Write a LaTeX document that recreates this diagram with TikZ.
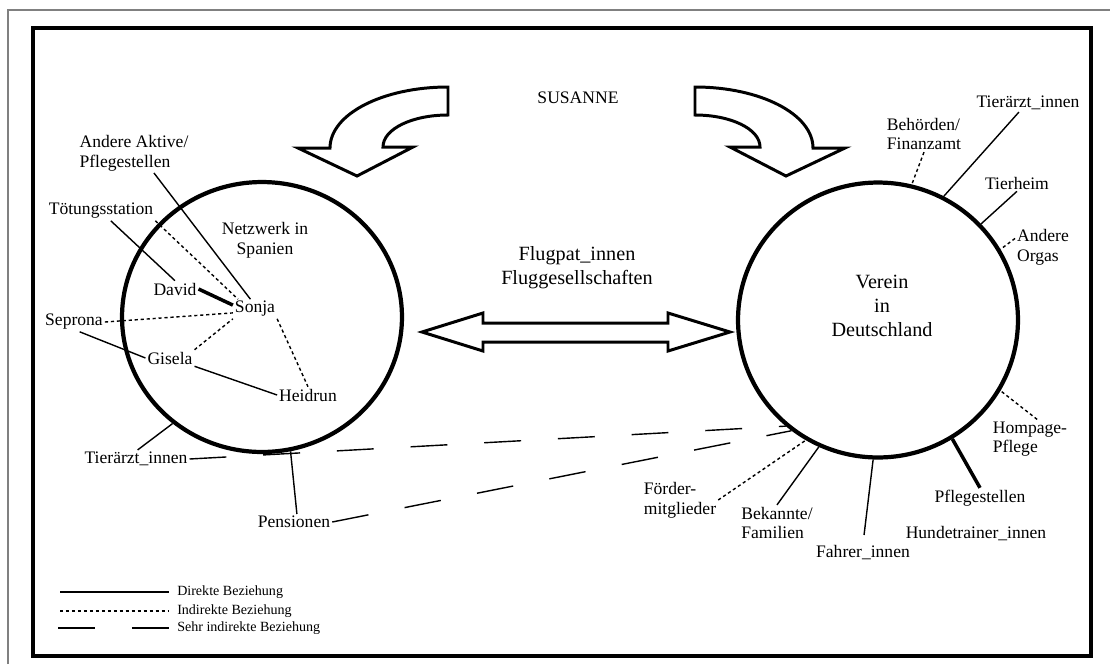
\documentclass[tikz,border=0pt]{standalone}
\usepackage{fontspec}
\setmainfont{Liberation Serif}
\usetikzlibrary{shapes.geometric,positioning}
\tikzstyle{akteur} = [inner sep=1pt, font=\fontsize{10}{11.2}\selectfont, align=left]
\tikzstyle{titel} = [inner sep=1pt, font=\fontsize{11.5}{13.5}\selectfont, align=center]
\tikzstyle{kreis} = [ellipse, draw=black, line width=2.4pt, inner sep=0pt]
\tikzstyle{direkt} = [line width=0.8pt]
\tikzstyle{indirekt} = [line width=0.8pt, dash pattern=on 1.8pt off 1.6pt]
\tikzstyle{sehrindirekt} = [line width=0.8pt, dash pattern=on 21pt off 21pt]
\tikzstyle{stark} = [line width=2pt]
\tikzstyle{blockpfeil} = [draw=black, line width=1.7pt, line join=miter, fill=white]
\tikzstyle{legende} = [inner xsep=4.5pt, inner ysep=1pt, font=\fontsize{8}{9.6}\selectfont, anchor=west]
\begin{document}
\begin{tikzpicture}[x=0.02cm, y=-0.02cm]
\useasboundingbox (0,0) rectangle (1110,664);

	% Rahmen
	\draw [gray, line width=0.6pt] (8,664) -- (8,10) -- (1110,10);
	\draw [line width=2.3pt] (33,28) rectangle (1091,656);

	% Kreise
	\node (spanien) [kreis, minimum width=5.6cm, minimum height=5.4cm] at (262,317) {};
	\node (verein) [kreis, minimum width=5.6cm, minimum height=5.5cm] at (878,320) {};

	\node (netzwerk) [akteur, align=center] at (265,240) {Netzwerk in\\Spanien};
	\node (vereintext) [titel] at (882,306) {Verein\\in\\Deutschland};
	\node (susanne) [akteur] at (578,98) {SUSANNE};
	\node (flug) [titel] at (577,268) {Flugpat\_innen\\Fluggesellschaften};

	% Pfeile
	\draw [blockpfeil] (448,87) -- (448,115) .. controls (412,115) and (383,129) .. (383,147)
		-- (413,147) -- (357,176) -- (298,148) -- (330,148) .. controls (330,114) and (383,87) .. cycle;
	\draw [blockpfeil] (695,87) -- (695,115) .. controls (731,115) and (760,129) .. (760,147)
		-- (730,147) -- (786,176) -- (845,148) -- (813,148) .. controls (813,114) and (760,87) .. cycle;
	\draw [blockpfeil] (422,332) -- (483,313) -- (483,323) -- (668,323) -- (668,313) -- (730,332)
		-- (668,351) -- (668,342) -- (483,342) -- (483,351) -- cycle;

	% Spanien
	\node (aktive) [akteur] at (134,153) {Andere Aktive/\\Pflegestellen};
	\node (toetung) [akteur] at (101,211) {Tötungsstation};
	\node (david) [akteur] at (175,289) {David};
	\node (sonja) [akteur] at (255,309) {Sonja};
	\node (seprona) [akteur] at (74,322) {Seprona};
	\node (gisela) [akteur] at (170,358) {Gisela};
	\node (heidrun) [akteur] at (308,395) {Heidrun};
	\node (tierl) [akteur] at (136,459) {Tierärzt\_innen};
	\node (pension) [akteur] at (294,522) {Pensionen};

	% Deutschland
	\node (behoerde) [akteur] at (924,134) {Behörden/\\Finanzamt};
	\node (tierr) [akteur] at (1028,103) {Tierärzt\_innen};
	\node (tierheim) [akteur] at (1017,183) {Tierheim};
	\node (orgas) [akteur] at (1043,247) {Andere\\Orgas};
	\node (hompage) [akteur] at (1030,439) {Hompage-\\Pflege};
	\node (pflege) [akteur] at (980,498) {Pflegestellen};
	\node (hundtrainer) [akteur, below=0.33cm of pflege, xshift=-0.08cm] {Hundetrainer\_innen};
	\node (fahrer) [akteur] at (863,553) {Fahrer\_innen};
	\node (bekannte) [akteur] at (777,523) {Bekannte/\\Familien};
	\node (foerder) [akteur] at (680,500) {Förder-\\mitglieder};

	\draw [direkt] (aktive.-45) -- (sonja.115);
	\draw [direkt] (toetung.-45) -- (david.north);
	\draw [indirekt] (toetung.south east) -- (sonja.150);
	\draw [stark] (david.east) -- (sonja.170);
	\draw [indirekt] (seprona.east) -- (sonja.190);
	\draw [direkt] (seprona.-60) -- (gisela.west);
	\draw [indirekt] (gisela.north east) -- (sonja.south west);
	\draw [direkt] (gisela.south east) -- (heidrun.west);
	\draw [indirekt] (sonja.south east) -- (heidrun.north);
	\draw [direkt] (tierl.80) -- (spanien.-130);
	\draw [direkt] (pension.70) -- (spanien.-78);

	\draw [sehrindirekt] (tierl.east) -- (verein.-131);
	\draw [sehrindirekt] (pension.east) -- (verein.-128);

	\draw [indirekt] (behoerde.south) -- (verein.76);
	\draw [direkt] (tierr.-135) -- (verein.62);
	\draw [direkt] (tierheim.south) -- (verein.43);
	\draw [indirekt] (orgas.163) -- (verein.30);
	\draw [indirekt] (hompage.70) -- (verein.-30);
	\draw [stark] (pflege.north) -- (verein.-58);
	\draw [direkt, shorten <=5pt] (fahrer.north) -- (verein.-92);
	\draw [direkt] (bekannte.north) -- (verein.-115);
	\draw [indirekt] (foerder.east) -- (verein.-121);

	% Legende
	\coordinate (l1) at (60,592);
	\coordinate (l2) at (60,611);
	\coordinate (l3) at (58,628);
	\node (ldirekt) [legende] at (169,592) {Direkte Beziehung};
	\node (lindirekt) [legende] at (169,611) {Indirekte Beziehung};
	\node (lsehr) [legende] at (169,628) {Sehr indirekte Beziehung};
	\draw [direkt] (l1) -- (ldirekt.west);
	\draw [indirekt] (l2) -- (lindirekt.west);
	\draw [sehrindirekt] (l3) -- (lsehr.west);

\end{tikzpicture}
\end{document}
